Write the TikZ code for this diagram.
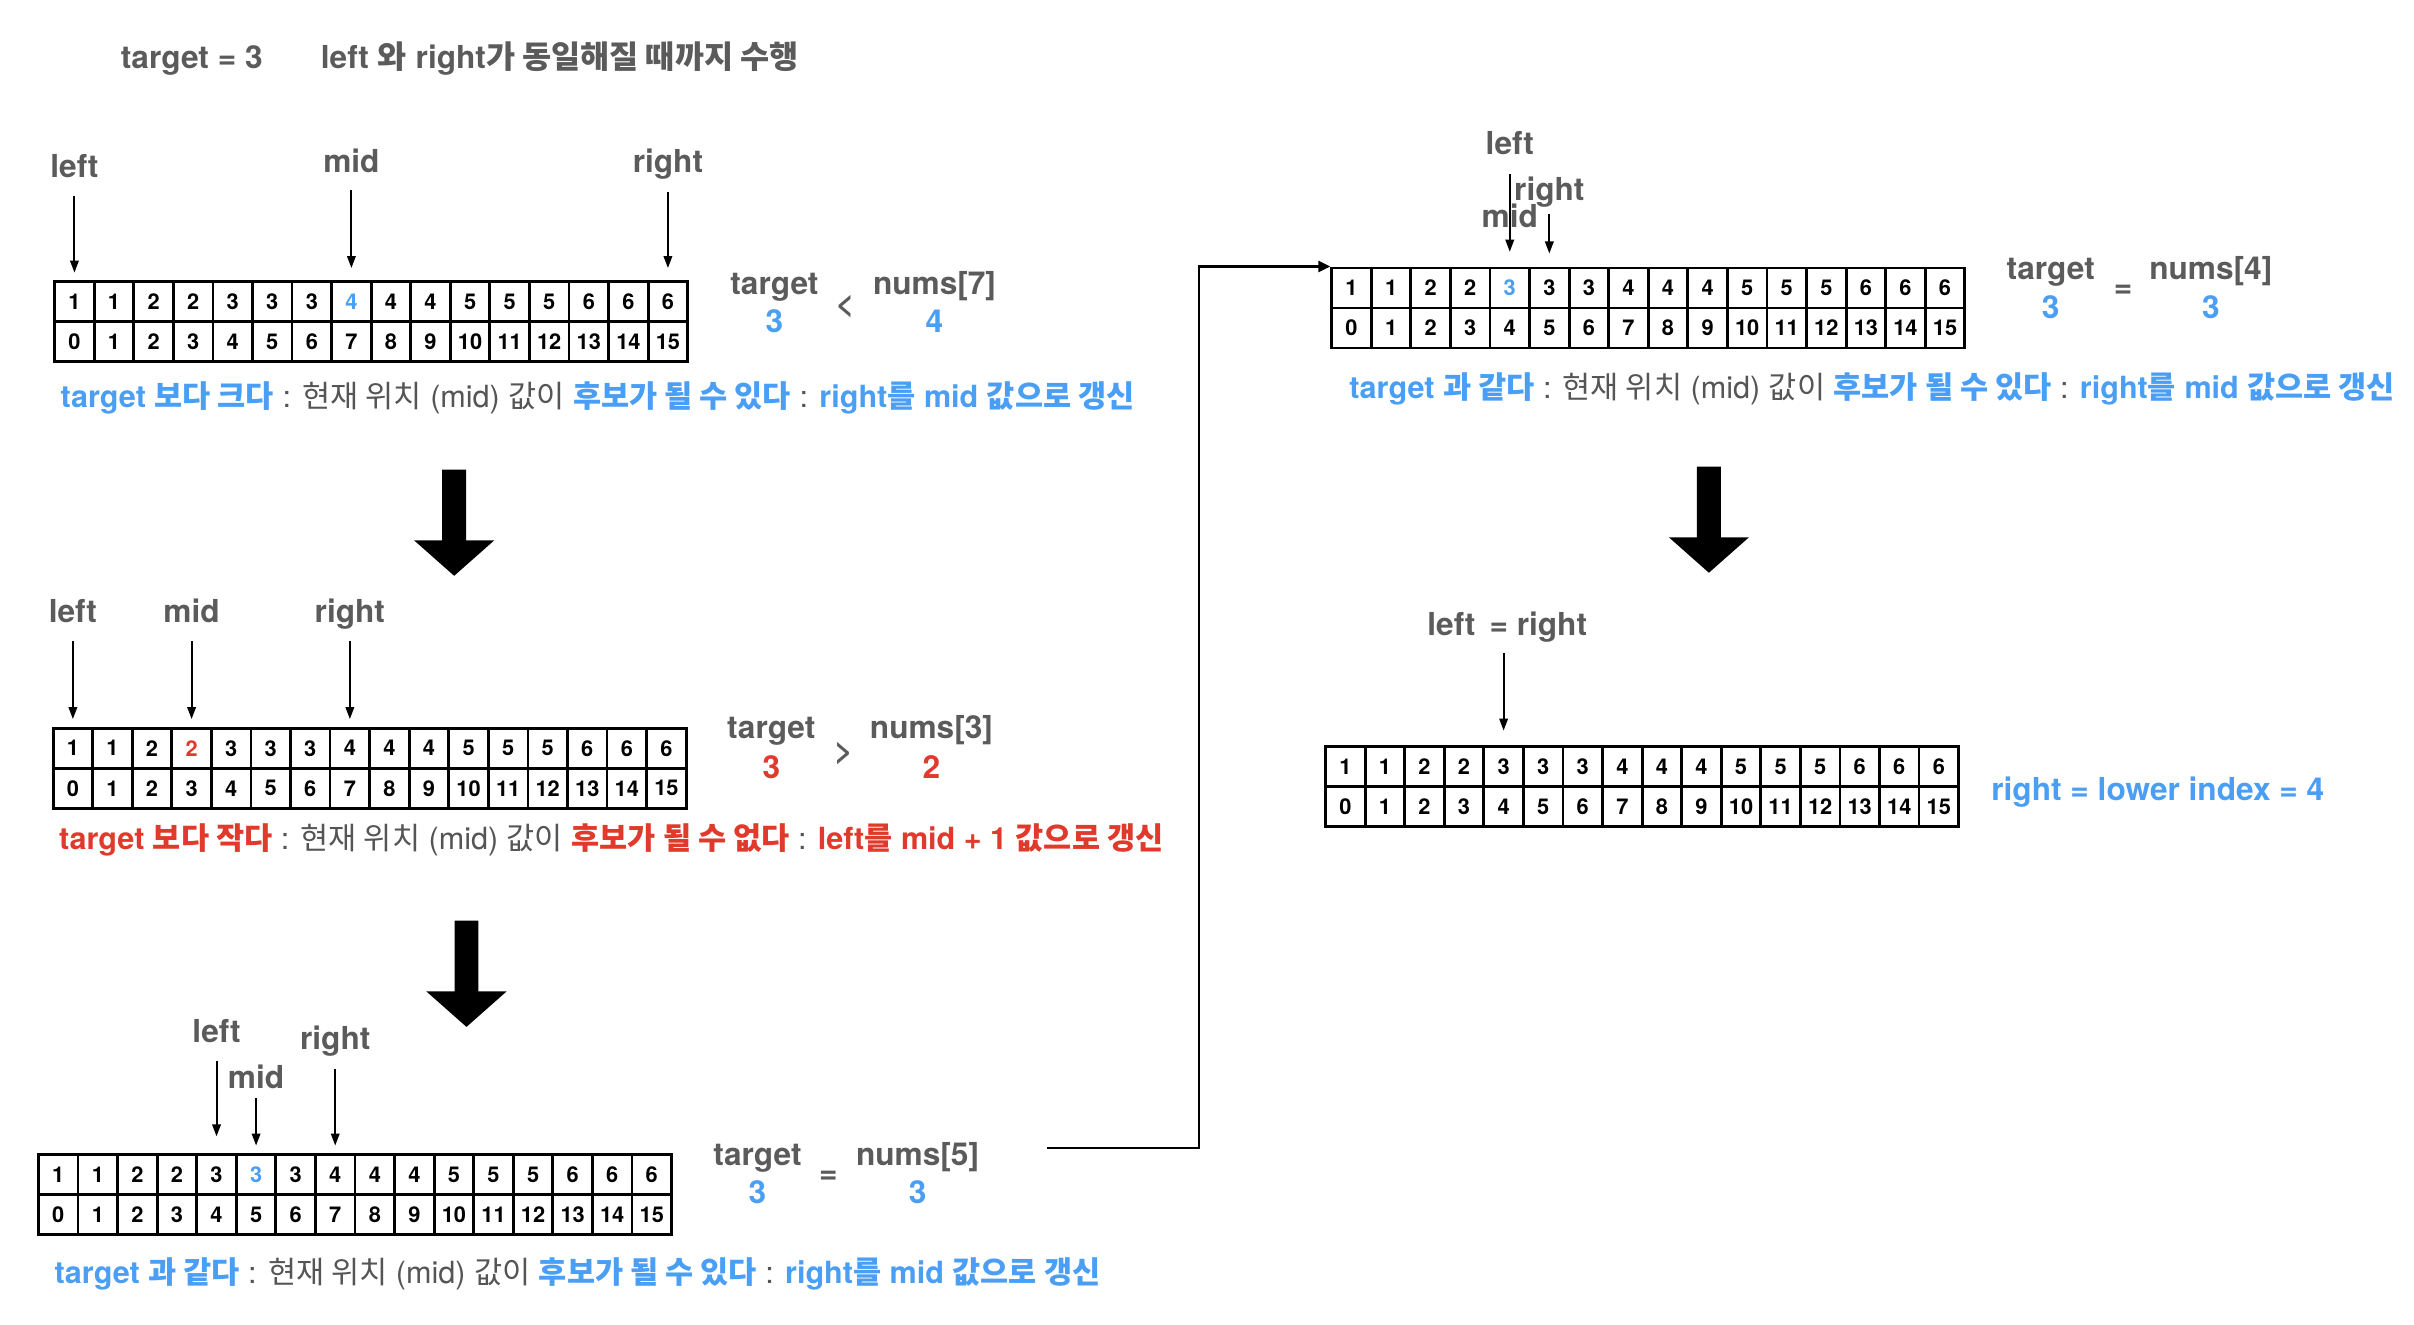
\documentclass[tikz,border=0pt]{standalone}
\usepackage{fontspec}
\setmainfont{TeX Gyre Heros}
\newfontfamily\krfont{Noto Sans CJK KR}
\newcommand{\kor}[1]{{\krfont #1}}
\usepackage{xcolor}
\usetikzlibrary{arrows.meta}
\definecolor{hlblue}{HTML}{4A9EF4}
\definecolor{hlred}{HTML}{E03A2C}
\definecolor{labgray}{HTML}{5B5B5B}
\definecolor{notegray}{HTML}{555555}

\begin{document}
\begin{tikzpicture}[x=0.15395mm,y=-0.15395mm,
  cell/.style={draw,line width=0.8pt,minimum width=3.956mm,minimum height=4.0mm,
    inner sep=0pt,font=\bfseries\fontsize{6.2}{7}\selectfont},
  lbl/.style={anchor=base,inner sep=0pt,text depth=0pt,text=labgray,
    font=\bfseries\fontsize{9}{11}\selectfont},
  op/.style={lbl,anchor=center},
  ptr/.style={line width=0.55pt,-{Triangle[length=1.2mm,width=0.85mm]},
    shorten <=5pt,shorten >=2.5pt},
  link/.style={line width=0.8pt,-{Triangle[length=1.2mm,width=1.1mm]}},
  note/.style={anchor=base west,inner sep=0pt,text=notegray,
    font=\fontsize{8.7}{10}\selectfont},
  bigdown/.pic={\fill (-7.75,0) -- (7.75,0) -- (7.75,46) -- (26,46) -- (0,69)
    -- (-26,46) -- (-7.75,46) -- cycle;}]
\useasboundingbox (0,0) rectangle (1568,860);

% title
\node[lbl,anchor=base west] (title) at (78,44.4) {target = 3};
\node[lbl,anchor=base west] (goal) at (208,44.4) {left \kor{와} right\kor{가 동일해질 때까지 수행}};

% step 1 : mid = 7
\foreach \v [count=\k from 0] in {1,1,2,2,3,3,3,\textcolor{hlblue}{4},4,4,5,5,5,6,6,6}
  \node[cell] (p1v\k) at ({35.5+25.7*(\k+0.5)},196) {\v};
\foreach \k in {0,...,15}
  \node[cell] (p1i\k) at ({35.5+25.7*(\k+0.5)},222) {\k};
\node[lbl] (p1l) at (p1v0 |- 0,115) {left};
\node[lbl] (p1m) at (p1v7 |- 0,112) {mid};
\node[lbl] (p1r) at (p1v15 |- 0,112) {right};
\draw[ptr,shorten <=5.3pt,shorten >=2.2pt] (p1l) -- (p1v0);
\draw[ptr,shorten <=4.8pt,shorten >=3.5pt] (p1m) -- (p1v7);
\draw[ptr,shorten <=5.3pt,shorten >=3.5pt] (p1r) -- (p1v15);
\node[lbl] (p1t) at (503,191) {target};
\node[lbl,text=hlblue] (p1tv) at (503,216) {3};
\node[op] (p1op) at (549,198) {<};
\node[lbl] (p1n) at (607,191) {nums[7]};
\node[lbl,text=hlblue] (p1nv) at (607,216) {4};
\node[note] (p1note) at (39,264.7) {{\color{hlblue}\bfseries target \kor{보다 크다}} : \kor{현재 위치} (mid) \kor{값이}
  {\color{hlblue}\bfseries \kor{후보가 될 수 있다}} : {\color{hlblue}\bfseries right\kor{를} mid \kor{값으로 갱신}}};

\pic at (295,305) {bigdown};

% step 2 : mid = 3
\foreach \v [count=\k from 0] in {1,1,2,\textcolor{hlred}{2},3,3,3,4,4,4,5,5,5,6,6,6}
  \node[cell] (p2v\k) at ({34.5+25.7*(\k+0.5)},486) {\v};
\foreach \k in {0,...,15}
  \node[cell] (p2i\k) at ({34.5+25.7*(\k+0.5)},512) {\k};
\node[lbl] (p2l) at (p2v0 |- 0,404) {left};
\node[lbl] (p2m) at (p2v3 |- 0,404) {mid};
\node[lbl] (p2r) at (p2v7 |- 0,404) {right};
\draw[ptr,shorten <=5.3pt,shorten >=2.2pt] (p2l) -- (p2v0);
\draw[ptr,shorten <=5.3pt,shorten >=2.2pt] (p2m) -- (p2v3);
\draw[ptr,shorten <=5.3pt,shorten >=2.2pt] (p2r) -- (p2v7);
\node[lbl] (p2t) at (501,479.6) {target};
\node[lbl,text=hlred] (p2tv) at (501,505.6) {3};
\node[op] (p2op) at (548,488.5) {>};
\node[lbl] (p2n) at (605,479.6) {nums[3]};
\node[lbl,text=hlred] (p2nv) at (605,505.6) {2};
\node[note] (p2note) at (38,551.6) {{\color{hlred}\bfseries target \kor{보다 작다}} : \kor{현재 위치} (mid) \kor{값이}
  {\color{hlred}\bfseries \kor{후보가 될 수 없다}} : {\color{hlred}\bfseries left\kor{를} mid + 1 \kor{값으로 갱신}}};

\pic at (303,598) {bigdown};

% step 3 : mid = 5
\foreach \v [count=\k from 0] in {1,1,2,2,3,\textcolor{hlblue}{3},3,4,4,4,5,5,5,6,6,6}
  \node[cell] (p3v\k) at ({25+25.7*(\k+0.5)},763) {\v};
\foreach \k in {0,...,15}
  \node[cell] (p3i\k) at ({25+25.7*(\k+0.5)},789) {\k};
\node[lbl] (p3l) at (p3v4 |- 0,677) {left};
\node[lbl] (p3m) at (p3v5 |- 0,707) {mid};
\node[lbl] (p3r) at (p3v7 |- 0,682) {right};
\draw[ptr,shorten <=5pt,shorten >=4.8pt] (p3l) -- (p3v4);
\draw[ptr,shorten <=2.5pt,shorten >=2.2pt] (p3m) -- (p3v5);
\draw[ptr,shorten <=5.3pt,shorten >=2.2pt] (p3r) -- (p3v7);
\node[lbl] (p3t) at (492,756.7) {target};
\node[lbl,text=hlblue] (p3tv) at (492,782) {3};
\node[op] (p3op) at (538,764.5) {=};
\node[lbl] (p3n) at (596,756.7) {nums[5]};
\node[lbl,text=hlblue] (p3nv) at (596,782) {3};
\node[note] (p3note) at (35,833.5) {{\color{hlblue}\bfseries target \kor{과 같다}} : \kor{현재 위치} (mid) \kor{값이}
  {\color{hlblue}\bfseries \kor{후보가 될 수 있다}} : {\color{hlblue}\bfseries right\kor{를} mid \kor{값으로 갱신}}};

% step 4 : mid = 4
\foreach \v [count=\k from 0] in {1,1,2,2,\textcolor{hlblue}{3},3,3,4,4,4,5,5,5,6,6,6}
  \node[cell] (p4v\k) at ({865+25.7*(\k+0.5)},187) {\v};
\foreach \k in {0,...,15}
  \node[cell] (p4i\k) at ({865+25.7*(\k+0.5)},213) {\k};
\node[lbl] (p4l) at (p4v4 |- 0,100.5) {left};
\node[lbl] (p4m) at (p4v4 |- 0,148) {mid};
\node[lbl] (p4r) at (p4v5 |- 0,130) {right};
\draw[ptr,shorten <=5.3pt,shorten >=4.2pt] (p4l) -- (p4v4);
\draw[ptr,shorten <=3.7pt,shorten >=3.7pt] (p4r) -- (p4v5);
\node[lbl] (p4t) at (1332,181.4) {target};
\node[lbl,text=hlblue] (p4tv) at (1332,206.8) {3};
\node[op] (p4op) at (1379,189.5) {=};
\node[lbl] (p4n) at (1436,181.4) {nums[4]};
\node[lbl,text=hlblue] (p4nv) at (1436,206.8) {3};
\node[note] (p4note) at (876,258.7) {{\color{hlblue}\bfseries target \kor{과 같다}} : \kor{현재 위치} (mid) \kor{값이}
  {\color{hlblue}\bfseries \kor{후보가 될 수 있다}} : {\color{hlblue}\bfseries right\kor{를} mid \kor{값으로 갱신}}};

% step 3 continues at the top right
\coordinate (hook) at (680,745.7);
\draw[link] (hook) -- ++(98.8,0) |- (p4v0.north west);

\pic at (1110,303) {bigdown};

% end : left = right
\foreach \v [count=\k from 0] in {1,1,2,2,3,3,3,4,4,4,5,5,5,6,6,6}
  \node[cell] (p5v\k) at ({861+25.7*(\k+0.5)},498) {\v};
\foreach \k in {0,...,15}
  \node[cell] (p5i\k) at ({861+25.7*(\k+0.5)},524) {\k};
\node[lbl] (p5lr) at (979,413) {left\, = right};
\draw[ptr,shorten <=4.8pt,shorten >=4.2pt] (p5lr.south -| p5v4) -- (p5v4);
\node[lbl,anchor=base west,text=hlblue] (p5res) at (1293,520) {right = lower index = 4};
\end{tikzpicture}
\end{document}
